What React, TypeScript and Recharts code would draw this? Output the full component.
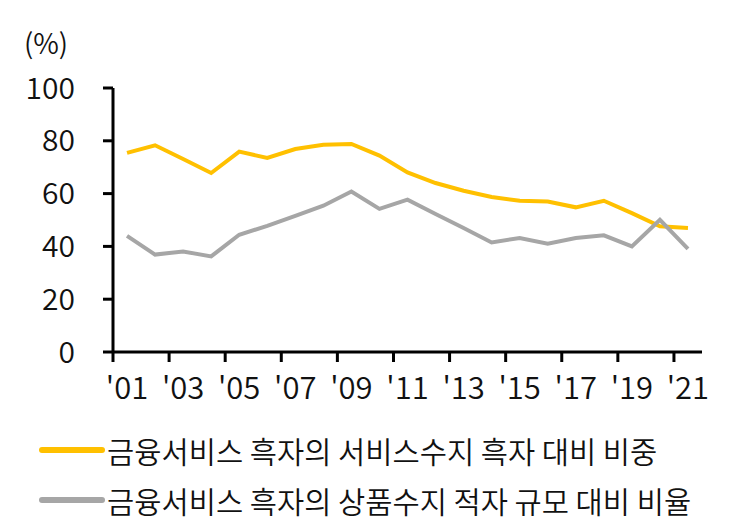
import React from 'react';
import { LineChart, Line, XAxis, YAxis } from 'recharts';

const YEARS = ["'01", "'02", "'03", "'04", "'05", "'06", "'07", "'08", "'09", "'10", "'11", "'12", "'13", "'14", "'15", "'16", "'17", "'18", "'19", "'20", "'21"];
const SERVICE_SHARE = [75.4, 78.3, 73.1, 67.8, 75.9, 73.5, 76.9, 78.5, 78.8, 74.4, 68.0, 64.0, 61.1, 58.7, 57.3, 57.0, 54.8, 57.3, 52.6, 47.6, 47.0];
const GOODS_RATIO = [44.0, 36.9, 38.1, 36.2, 44.4, 47.8, 51.6, 55.4, 60.8, 54.2, 57.7, 52.3, 47.0, 41.5, 43.2, 41.0, 43.2, 44.2, 40.0, 50.1, 39.1];
const Y_TICKS = [0, 20, 40, 60, 80, 100];
const LEGEND_NAMES = ['금융서비스 흑자의 서비스수지 흑자 대비 비중', '금융서비스 흑자의 상품수지 적자 규모 대비 비율'];

const YELLOW = '#FFC000';
const GRAY = '#A6A6A6';
const FONT = '"Noto Sans CJK KR", "Noto Sans", sans-serif';
const WEIGHT = 350;

const W = 729;
const H = 531;
const MARGIN = { top: 88, right: 27, left: 0, bottom: 119 };
const Y_AXIS_W = 113;
const PLOT_W = W - MARGIN.left - MARGIN.right - Y_AXIS_W;
const HALF_STEP = PLOT_W / YEARS.length / 2;

const data = YEARS.map((year, i) => ({ year, service: SERVICE_SHARE[i], goods: GOODS_RATIO[i] }));

// labels every other year, tick marks sit between categories
const XTick = (props: any) => {
  const { x, y, payload, index } = props;
  if (index % 2 !== 0) return <g />;
  return (
    <g>
      <line x1={x - HALF_STEP} x2={x - HALF_STEP} y1={y} y2={y + 10} stroke="#000" strokeWidth={3} />
      <text x={x} y={y + 47} textAnchor="middle" fontSize={31} fontWeight={WEIGHT} fontFamily={FONT} fill="#111">
        {payload.value}
      </text>
    </g>
  );
};

const legendRows = [
  { name: LEGEND_NAMES[0], color: YELLOW },
  { name: LEGEND_NAMES[1], color: GRAY },
];

export default function App() {
  return (
    <div style={{ position: 'absolute', left: 0, top: 0, width: W, height: H, background: '#fff', fontFamily: FONT, fontWeight: WEIGHT }}>
      <div style={{ position: 'absolute', left: 24, top: 22, fontSize: 28, color: '#111' }}>(%)</div>
      <LineChart width={W} height={H} data={data} margin={MARGIN}>
        <XAxis
          dataKey="year"
          interval={0}
          padding={{ left: HALF_STEP, right: HALF_STEP }}
          tickLine={false}
          tickSize={0}
          tickMargin={0}
          height={60}
          axisLine={{ stroke: '#000', strokeWidth: 3 }}
          tick={<XTick />}
        />
        <YAxis
          width={Y_AXIS_W}
          domain={[0, 100]}
          ticks={Y_TICKS}
          tickSize={10}
          tickMargin={28}
          axisLine={{ stroke: '#000', strokeWidth: 3 }}
          tickLine={{ stroke: '#000', strokeWidth: 3 }}
          tick={{ fontSize: 30, fontWeight: WEIGHT, fontFamily: FONT, fill: '#111' }}
        />
        <Line dataKey="service" stroke={YELLOW} strokeWidth={4} dot={false} isAnimationActive={false} />
        <Line dataKey="goods" stroke={GRAY} strokeWidth={4} dot={false} isAnimationActive={false} />
      </LineChart>
      {legendRows.map((row, i) => (
        <div
          key={row.name}
          style={{ position: 'absolute', left: 37, top: 430 + i * 50, height: 40, display: 'flex', alignItems: 'center' }}
        >
          <svg width={70} height={10}>
            <line x1={5} x2={65} y1={5} y2={5} stroke={row.color} strokeWidth={6} strokeLinecap="round" />
          </svg>
          <span style={{ fontSize: 29.6, color: '#111', whiteSpace: 'nowrap' }}>{row.name}</span>
        </div>
      ))}
    </div>
  );
}
